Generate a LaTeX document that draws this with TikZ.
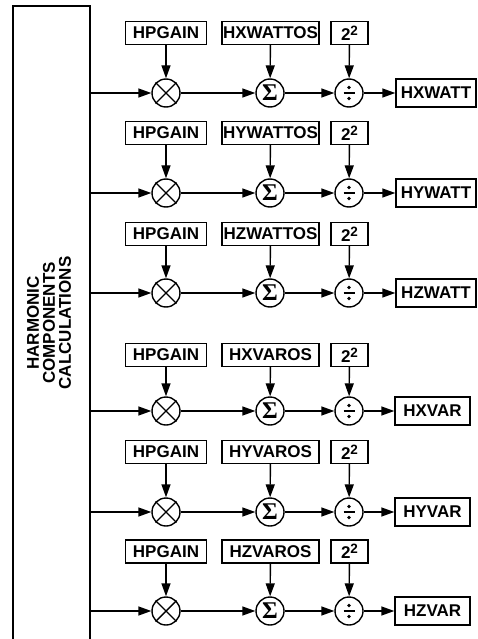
\documentclass[tikz,border=0pt]{standalone}
\usepackage{fontspec}
\setmainfont{Liberation Sans}
\newfontfamily\serifgr{Liberation Serif}
\usetikzlibrary{arrows.meta}
\tikzset{
  lbl/.style={draw, line width=1.4pt, font=\fontsize{17}{17}\selectfont\bfseries, inner sep=0pt, minimum height=23pt},
  outbox/.style={draw, line width=1.4pt, font=\fontsize{17}{17}\selectfont\bfseries, inner sep=0pt, minimum height=28pt},
  op/.style={circle, draw, line width=1.4pt, minimum size=28pt, inner sep=0pt},
  arr/.style={-{Triangle[length=13pt,width=9pt]}, line width=1.4pt},
}
\newcommand{\sqtwo}{2\raisebox{5pt}{\fontsize{13.5}{13.5}\selectfont 2}}
\newcommand{\onerow}[6]{%
  \node[lbl, minimum width=81pt] (g#1) at (166,#3) {HPGAIN};
  \node[lbl, minimum width=97pt] (o#1) at (270.5,#3) {#4};
  \node[lbl, minimum width=37pt] (s#1) at (349.5,#3) {\sqtwo};
  \node[op] (m#1) at (166,#2) {};
  \draw[line width=1.4pt] (m#1.45) -- (m#1.225) (m#1.135) -- (m#1.315);
  \node[op, font=\serifgr\fontsize{24}{24}\selectfont\bfseries] (a#1) at (270,#2) {\raisebox{0.5pt}{Σ}};
  \node[op] (d#1) at (349,#2) {};
  \draw[line width=2.2pt] ([xshift=-5.5pt]d#1.center) -- ([xshift=5.5pt]d#1.center);
  \fill ([yshift=-5.5pt]d#1.center) circle (1.9pt) ([yshift=5.5pt]d#1.center) circle (1.9pt);
  \node[outbox, #6] (r#1) {#5};
  \draw[arr] (hc.east |- m#1) -- (m#1);
  \draw[arr] (g#1) -- (m#1);
  \draw[arr] (o#1) -- (a#1);
  \draw[arr] (s#1) -- (d#1);
  \draw[arr] (m#1) -- (a#1);
  \draw[arr] (a#1) -- (d#1);
  \draw[arr] (d#1) -- (r#1);
}
\begin{document}
\begin{tikzpicture}[x=1pt,y=-1pt]
\useasboundingbox (0,0) rectangle (477,639);
\begin{scope}
\clip (0,0) rectangle (477,639);
\node[draw, line width=1.4pt, minimum width=77pt, minimum height=660pt, inner sep=0pt] (hc) at (51.5,336) {};
\node[font=\fontsize{17}{16}\selectfont\bfseries, align=center, rotate=90] (hct) at (49,323) {HARMONIC\\COMPONENTS\\CALCULATIONS};
\onerow{1}{93}{33}{HXWATTOS}{HXWATT}{minimum width=80pt, at={(436,93)}}
\onerow{2}{193}{133}{HYWATTOS}{HYWATT}{minimum width=80pt, at={(436,193)}}
\onerow{3}{293}{234}{HZWATTOS}{HZWATT}{minimum width=80pt, at={(436,293)}}
\onerow{4}{411}{355}{HXVAROS}{HXVAR}{minimum width=75pt, at={(432.5,411)}}
\onerow{5}{512}{452}{HYVAROS}{HYVAR}{minimum width=75pt, at={(432.5,512)}}
\onerow{6}{611}{551.5}{HZVAROS}{HZVAR}{minimum width=75pt, at={(432.5,611)}}
\end{scope}
\end{tikzpicture}
\end{document}
